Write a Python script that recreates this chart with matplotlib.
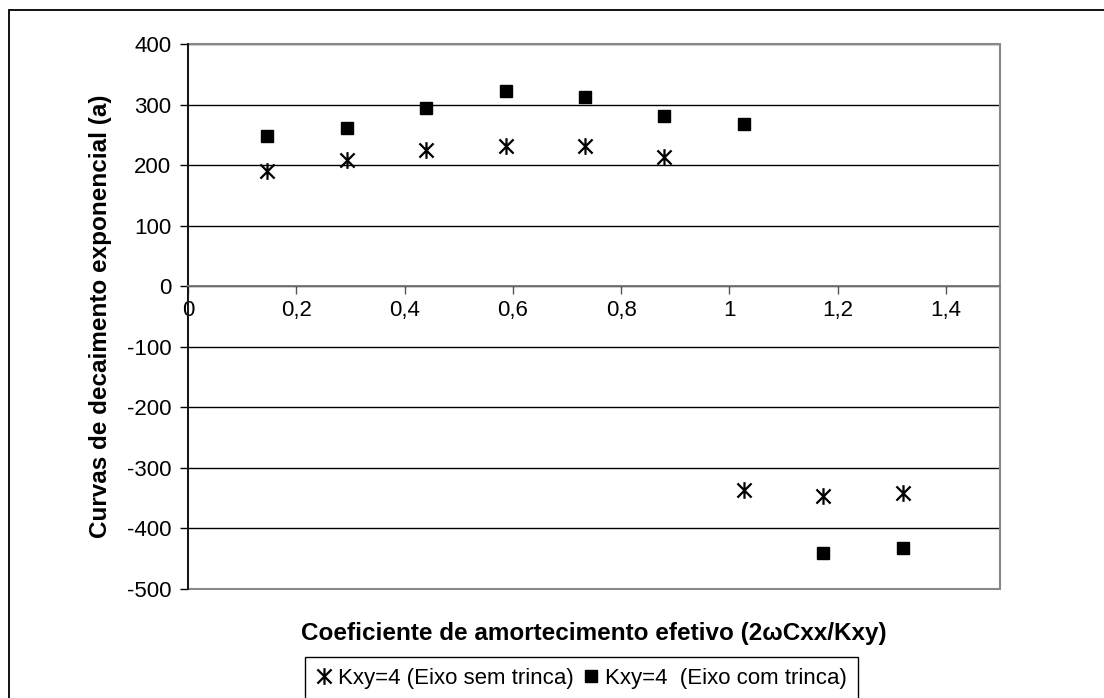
import numpy as np
from matplotlib import pyplot as plt
from matplotlib.patches import Rectangle
from matplotlib.path import Path

plt.rcParams['font.family'] = ['Liberation Sans', 'DejaVu Sans']
plt.rcParams['axes.unicode_minus'] = False

# 2wCxx/Kxy
x = [0.1467, 0.2933, 0.44, 0.5867, 0.7333, 0.88, 1.0267, 1.1733, 1.32]
a_sem_trinca = [191, 209, 226, 232, 232, 214, -337, -347, -341]
a_com_trinca = [248, 262, 295, 323, 313, 282, 268, -440, -433]
xticks = [0, 0.2, 0.4, 0.6, 0.8, 1.0, 1.2, 1.4]
xticklabels = ["0", "0,2", "0,4", "0,6", "0,8", "1", "1,2", "1,4"]
yticks = list(range(-500, 401, 100))

# excel style star: vertical bar + X
star = Path([(0, -1), (0, 1), (-0.85, -0.85), (0.85, 0.85), (-0.85, 0.85), (0.85, -0.85)],
            [Path.MOVETO, Path.LINETO, Path.MOVETO, Path.LINETO, Path.MOVETO, Path.LINETO])

fs = 16
fig = plt.figure(figsize=(11.04, 6.98), dpi=100)
ax = fig.add_axes([188/1104, 1-589/698, 812/1104, 544.7/698])

ax.plot(x, a_sem_trinca, linestyle='none', marker=star, ms=12, mew=1.6,
        color='black', label='Kxy=4 (Eixo sem trinca)', clip_on=False)
ax.plot(x, a_com_trinca, linestyle='none', marker='s', ms=8.5,
        color='black', label='Kxy=4  (Eixo com trinca)', clip_on=False)

ax.set_xlim(0, 1.5)
ax.set_ylim(-500, 400)
ax.set_xticks(xticks)
ax.set_xticklabels(xticklabels)
ax.set_yticks(yticks)
ax.tick_params(labelsize=fs, length=6, width=1)
ax.tick_params(axis='y', pad=6)
ax.tick_params(axis='x', pad=4, color='#555555')

ax.set_axisbelow(True)
ax.yaxis.grid(True, color='black', lw=1)

for s in ['top', 'right']:
    ax.spines[s].set_visible(False)
ax.spines['bottom'].set_position(('data', 0))
ax.spines['bottom'].set_color('#777777')
ax.spines['bottom'].set_linewidth(1.3)
ax.spines['left'].set_color('black')
ax.spines['left'].set_linewidth(1.2)
ax.add_patch(Rectangle((0, 0), 1, 1, transform=ax.transAxes, fill=False,
                       edgecolor='#888888', lw=1.5, zorder=2, clip_on=False))

ax.set_xlabel("Coeficiente de amortecimento efetivo (2\u03c9Cxx/Kxy)",
              fontsize=17.5, fontweight='bold')
ax.xaxis.label.set_va('center')
ax.xaxis.set_label_coords(0.5, -0.081)
ax.set_ylabel("Curvas de decaimento exponencial (a)", fontsize=17.5, fontweight='bold')
ax.yaxis.label.set_va('center')
ax.yaxis.set_label_coords(-0.108, 0.5)

fig.legend(loc='upper left', bbox_to_anchor=(305/1104, 1-657/698), ncol=2,
           frameon=True, fancybox=False, edgecolor='black', framealpha=1,
           fontsize=16, borderaxespad=0, handlelength=0.7, handletextpad=0.3,
           columnspacing=0.4, borderpad=0.5)

# chart area border
fig.add_artist(Rectangle((9/1104, -0.1), 1.2, 1-10/698+0.1, transform=fig.transFigure,
                         fill=False, edgecolor='black', lw=1.3))

fig.savefig("out.png", dpi=100)
